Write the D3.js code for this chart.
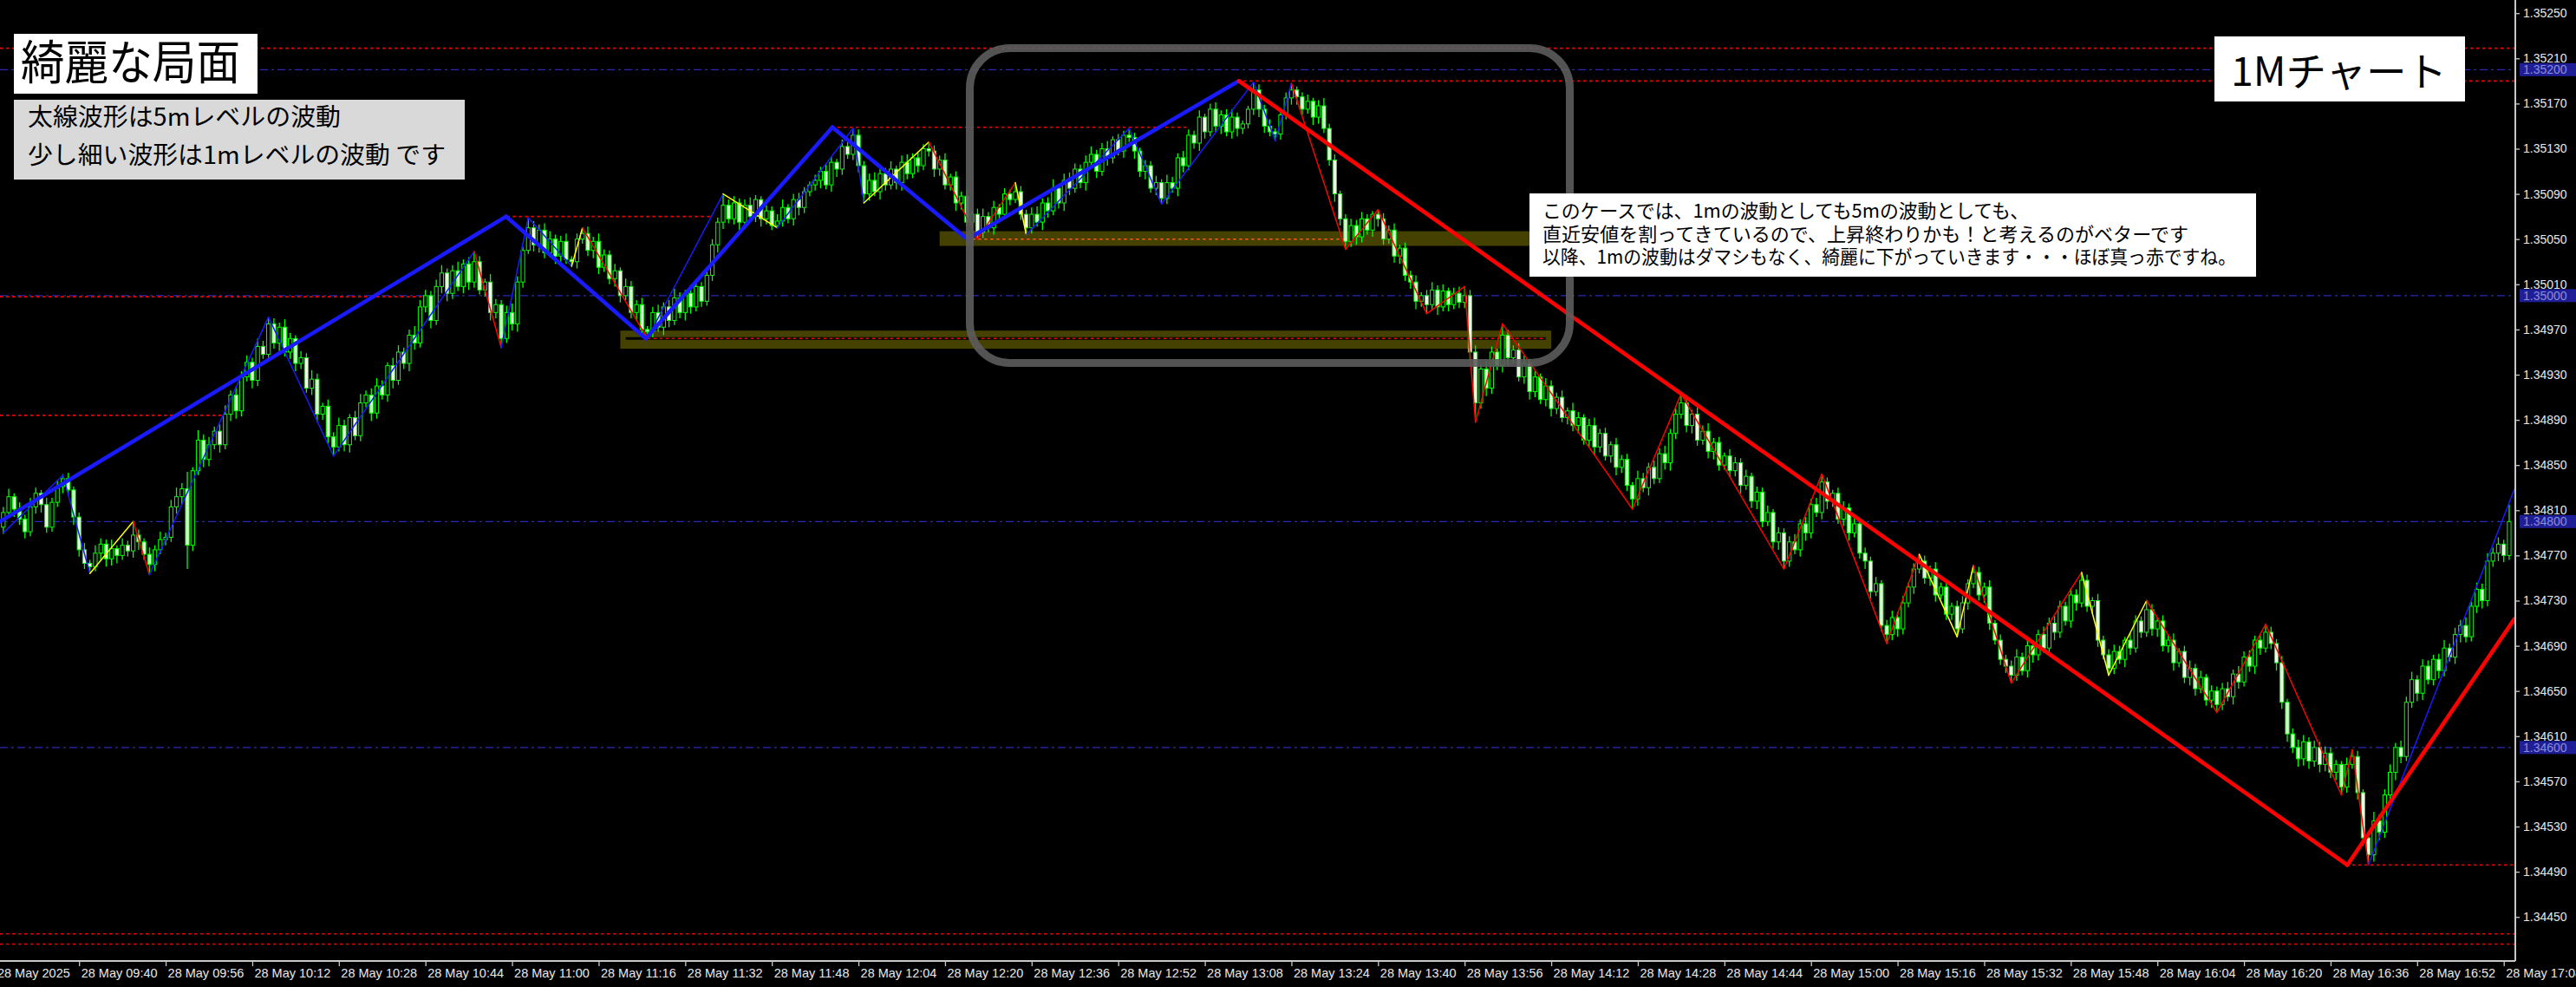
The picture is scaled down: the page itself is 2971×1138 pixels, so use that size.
<!DOCTYPE html>
<html><head><meta charset="utf-8">
<script src="https://cdnjs.cloudflare.com/ajax/libs/d3/7.8.5/d3.min.js"></script>
<style>html,body{margin:0;padding:0;background:#000;overflow:hidden}</style>
</head><body><svg id="c" width="2971" height="1138"></svg>
<script>
// ---------------- DATA ----------------
// 1-minute candles, 28 May 2025, starting 09:26. price = BASE + pts/100000
const BASE = 1.34;
const startTime = "09:26";
const firstOpenPts = 795;
const closePts = [
 808,822,811,802,791,813,825,815,795,817,
 831,838,828,804,775,763,760,772,780,767,
 776,770,779,774,788,782,771,762,775,784,
 786,813,822,829,779,845,872,855,868,880,
 868,895,912,898,928,941,925,955,948,975,
 958,972,950,962,940,945,918,926,895,902,
 875,866,885,868,892,876,905,912,896,920,
 912,938,925,950,940,965,958,990,1000,978,
 1008,1020,1002,1022,1008,1028,1012,1030,1005,1012,
 985,992,962,985,975,1012,1040,1060,1045,1058,
 1038,1050,1035,1048,1032,1030,1050,1055,1040,1048,
 1025,1036,1015,1022,1000,1008,985,992,970,968,
 985,972,990,978,998,985,1002,990,1008,995,
 1018,1045,1065,1080,1068,1082,1065,1080,1070,1085,
 1068,1075,1062,1066,1078,1068,1085,1078,1092,1098,
 1102,1110,1098,1118,1112,1132,1125,1142,1115,1090,
 1102,1092,1108,1098,1112,1100,1118,1108,1122,1115,
 1130,1128,1112,1120,1098,1105,1082,1088,1065,1072,
 1056,1070,1060,1078,1072,1090,1085,1092,1072,1060,
 1072,1065,1082,1075,1095,1082,1102,1095,1112,1100,
 1118,1125,1110,1130,1122,1138,1128,1142,1140,1128,
 1110,1115,1095,1100,1086,1100,1095,1122,1115,1142,
 1135,1158,1145,1165,1150,1160,1145,1158,1148,1152,
 1165,1182,1165,1150,1145,1143,1160,1175,1182,1176,
 1165,1172,1158,1168,1148,1120,1090,1068,1048,1062,
 1052,1068,1058,1072,1068,1050,1058,1035,1042,1018,
 1012,995,1000,992,1005,990,1004,992,1002,994,
 1000,950,905,935,918,950,938,965,945,952,
 928,940,915,928,908,920,900,910,892,898,
 885,892,872,885,866,878,858,868,848,855,
 832,820,838,830,848,838,860,852,878,895,
 905,885,895,872,880,862,870,850,858,845,
 852,832,840,818,826,800,808,782,790,765,
 782,775,798,790,815,808,835,818,825,802,
 812,790,798,772,765,738,745,708,700,715,
 705,728,742,758,765,750,758,735,742,718,
 725,705,728,745,755,735,742,710,695,678,
 672,664,680,668,690,682,700,688,710,702,
 725,712,735,728,748,725,730,695,682,670,
 685,678,695,688,712,702,722,705,712,690,
 695,675,685,662,670,652,662,642,650,638,
 652,645,665,658,680,672,695,688,702,692,
 675,640,612,600,590,605,588,600,585,595,
 578,585,565,585,592,560,520,505,535,525,
 558,578,600,592,640,660,648,672,660,678,
 668,688,680,700,708,698,725,740,730,765,
 772,780,770,800
];
const upWickPts = [
 5,7,3,6,4,8,5,3,6,4, 6,4,5,3,4,6,3,7,5,4, 8,3,6,4,12,5,3,6,4,7, 4,6,8,5,15,3,9,5,7,4,
 6,8,4,7,5,6,4,7,5,6, 5,4,7,5,3,6,4,8,5,3, 6,4,7,5,3,6,8,4,6,7, 5,3,7,6,4,5,8,6,5,4,
 6,7,4,5,8,4,6,9,5,3, 7,5,4,6,8,5,3,9,6,5, 6,7,4,5,7,3,5,5,6,4, 7,5,4,6,3,7,5,4,6,3,
 5,7,4,6,8,5,3,7,5,4, 7,5,4,10,5,6,4,5,7,4, 3,5,4,6,7,3,5,6,4,3, 5,4,7,5,3,6,4,6,5,4,
 6,7,4,5,7,3,6,7,4,5, 4,6,5,4,6,3,5,4,6,3, 5,7,4,6,3,5,4,8,5,4, 6,7,4,5,8,3,6,7,5,4,
 6,7,4,5,7,3,5,4,6,4, 3,5,4,6,3,7,5,4,6,5, 4,6,3,5,6,4,5,7,4,3, 3,7,5,4,6,3,4,5,6,3,
 4,6,3,5,7,4,5,3,4,6, 5,6,4,3,4,5,4,6,3,5, 4,6,3,5,7,4,6,3,5,6, 8,5,6,4,7,5,3,10,5,4,
 6,7,4,5,3,7,5,4,6,3, 7,5,3,6,7,4,5,3,6,4, 5,3,7,5,4,6,5,7,4,5, 8,5,4,6,5,7,4,5,3,6,
 5,4,6,3,5,4,6,3,5,4, 5,7,4,6,5,6,7,4,3,5, 6,4,5,3,5,4,6,3,5,6, 5,6,4,5,6,5,3,6,4,5,
 3,5,6,4,6,5,4,6,3,5, 4,5,7,4,6,5,4,7,5,6, 5,4,6,5,7,5,3,6,4,5, 6,5,3,6,5,4,8,5,3,5,
 4,6,3,5,7,4,6,3,5,4, 5,6,4,7,5,6,4,5,7,5, 4,6,3,5,7,6,4,6,5,6, 5,4,3,6,6,5,3,5,8,6,
 5,7,4,6,5,7,4,6,5,4, 5,7,4,6,5,7,4,6,5,7, 5,6,4,15
];
const downWickPts = [
 6,4,7,5,6,4,6,7,5,4, 4,6,5,7,6,5,6,4,6,7, 6,7,4,5,6,7,5,9,6,4, 5,4,6,7,21,5,4,7,6,4,
 7,4,6,7,5,4,7,5,4,6, 5,7,4,6,7,5,4,6,7,5, 6,8,4,6,7,4,5,4,7,5, 4,6,7,4,5,7,6,4,5,7,
 4,6,7,5,4,6,7,5,4,6, 7,5,8,4,6,7,5,3,6,7, 5,4,7,5,4,4,6,4,5,7, 6,4,5,7,6,4,5,7,6,6,
 5,4,7,6,4,5,7,6,4,5, 4,5,7,6,4,5,7,6,4,5, 7,5,4,2,5,4,6,7,5,4, 5,7,4,6,7,5,4,5,6,8,
 6,4,7,5,4,6,7,5,4,6, 4,5,7,6,4,5,7,6,4,5, 6,5,4,6,7,4,5,3,5,6, 5,4,7,6,4,5,7,6,4,5,
 7,4,6,4,7,5,4,6,4,7, 5,7,4,6,5,5,4,7,6,4, 5,7,6,4,5,7,4,6,7,5, 4,5,7,6,4,6,5,4,6,7,
 5,4,7,6,4,5,7,6,7,5, 7,5,4,6,7,5,4,6,7,5, 6,7,5,8,5,7,4,6,4,5, 5,7,17,5,7,5,4,6,7,5,
 4,6,7,5,4,6,7,5,4,6, 5,7,4,6,7,5,4,6,7,5, 5,9,6,4,7,5,4,6,7,5, 4,6,7,5,4,6,7,5,4,6,
 5,7,4,6,7,5,4,6,7,7, 5,4,6,7,5,4,6,7,5,4, 6,7,4,5,7,6,4,5,8,5, 7,5,4,6,4,5,7,6,4,5,
 5,7,4,6,4,5,7,6,4,5, 6,7,5,4,6,7,5,4,6,7, 5,4,6,7,4,5,7,6,4,6, 5,4,7,6,4,5,4,6,7,5,
 6,7,4,5,7,6,4,5,7,7, 5,4,7,6,4,5,7,6,4,5, 7,6,7,5,7,6,7,5,7,6, 5,7,7,5,4,6,7,9,6,7,
 5,4,7,6,4,5,7,6,4,5, 7,5,4,6,7,5,4,6,7,5, 5,7,6,4
];

// axis ticks
const timeTickTimes = ["09:24:30","09:40","09:56","10:12","10:28","10:44","11:00","11:16","11:32","11:48",
 "12:04","12:20","12:36","12:52","13:08","13:24","13:40","13:56","14:12","14:28","14:44",
 "15:00","15:16","15:32","15:48","16:04","16:20","16:36","16:52","17:08"];
const timeTickLabels = ["28 May 2025","28 May 09:40","28 May 09:56","28 May 10:12","28 May 10:28","28 May 10:44",
 "28 May 11:00","28 May 11:16","28 May 11:32","28 May 11:48","28 May 12:04","28 May 12:20","28 May 12:36",
 "28 May 12:52","28 May 13:08","28 May 13:24","28 May 13:40","28 May 13:56","28 May 14:12","28 May 14:28",
 "28 May 14:44","28 May 15:00","28 May 15:16","28 May 15:32","28 May 15:48","28 May 16:04","28 May 16:20",
 "28 May 16:36","28 May 16:52","28 May 17:08"];
const priceTickLabels = ["1.35250","1.35210","1.35170","1.35130","1.35090","1.35050","1.35010","1.34970",
 "1.34930","1.34890","1.34850","1.34810","1.34770","1.34730","1.34690","1.34650","1.34610","1.34570",
 "1.34530","1.34490","1.34450"];
const roundLevels = ["1.35200","1.35000","1.34800","1.34600"];

// swing level lines [from, to, price]  (null = chart edge)
const redLevels = [[null,null,1.35219],["13:14",null,1.35190],["11:59","13:05",1.35149],["10:59","11:37",1.35070],
 [null,"10:44",1.34999],[null,"10:07",1.34894],["11:25","14:11",1.34962],["16:40",null,1.34496],
 [null,null,1.34435],[null,null,1.34426]];
const orangeLevels = [["12:25","13:34",1.35050]];
const blackLevels = [["11:21","14:11",1.34962]];
const bands = [["12:19","14:10",1.35044,1.35057],["11:20","14:12",1.34953,1.34969]];

// zigzags [time, price, colour of the leg ending here]
const zigzag5m = [["09:25:24",1.34800,"b"],["10:58:54",1.35070,"b"],["11:24:42",1.34962,"b"],["11:59:12",1.35149,"b"],
 ["12:24:06",1.35050,"b"],["13:14:18",1.35190,"b"],["16:39:06",1.34496,"r"],["17:10",1.34714,"r"]];
const zigzag1m = [["09:26",1.34790,"b"],["09:37",1.34841,"b"],["09:42",1.34754,"b"],["09:50",1.34800,"y"],["09:53",1.34753,"r"],
 ["10:15",1.34981,"b"],["10:27",1.34858,"b"],["10:53",1.35039,"b"],["10:58",1.34954,"r"],["11:03",1.35069,"b"],
 ["11:11",1.35026,"b"],["11:13",1.35060,"y"],["11:25",1.34962,"r"],["11:39",1.35090,"b"],["11:49",1.35060,"y"],
 ["12:03",1.35148,"b"],["12:05",1.35082,"b"],["12:17",1.35136,"y"],["12:26",1.35050,"r"],["12:33",1.35100,"r"],
 ["12:35",1.35054,"y"],["12:54",1.35148,"b"],["13:00",1.35081,"b"],["13:17",1.35189,"b"],["13:21",1.35137,"b"],
 ["13:24",1.35188,"b"],["13:34",1.35041,"r"],["13:40",1.35076,"r"],["13:49",1.34984,"r"],["13:56",1.35008,"r"],
 ["13:58",1.34888,"r"],["14:03",1.34975,"r"],["14:27",1.34811,"r"],["14:36",1.34913,"r"],["14:55",1.34758,"r"],
 ["15:02",1.34842,"r"],["15:14",1.34692,"r"],["15:20",1.34771,"r"],["15:27",1.34698,"y"],["15:30",1.34761,"y"],
 ["15:37",1.34657,"r"],["15:50",1.34755,"r"],["15:55",1.34664,"y"],["16:02",1.34730,"y"],["16:15",1.34631,"r"],
 ["16:24",1.34709,"r"],["16:38",1.34558,"r"],["16:40",1.34598,"r"],["16:43",1.34496,"r"],["17:10",1.34829,"b"]];

const titleText = "綺麗な局面";
const noteLines = ["太線波形は5mレベルの波動","少し細い波形は1mレベルの波動 です"];
const chartLabel = "1Mチャート";
const commentLines = ["このケースでは、1mの波動としても5mの波動としても、",
 "直近安値を割ってきているので、上昇終わりかも！と考えるのがベターです",
 "以降、1mの波動はダマシもなく、綺麗に下がっていきます・・・ほぼ真っ赤ですね。"];

// ---------------- DRAW ----------------
const W = 2971, H = 1138, plotR = 2901, plotB = 1108;
const svg = d3.select("#c");
svg.append("rect").attr("width", W).attr("height", H).attr("fill", "#000");
const parse = d3.timeParse("%Y-%m-%d %H:%M:%S");
const T = s => parse("2025-05-28 " + (s.length === 5 ? s + ":00" : s));
const x = d3.scaleTime().domain([T("09:40"), T("17:08")]).range([91.2, 2887.7]);
const y = d3.scaleLinear().domain([1.34450, 1.35250]).range([1057.2, 15.2]);
const P = pts => BASE + pts / 100000;
const colours = {b: "#1a1aff", r: "#ff0000", y: "#ffff00"};

svg.append("clipPath").attr("id", "plot").append("rect").attr("x", 0).attr("y", 0).attr("width", plotR).attr("height", plotB);
const g = svg.append("g").attr("clip-path", "url(#plot)");
const xe = t => t === null ? null : x(T(t));

// bands
g.selectAll(".band").data(bands).join("rect")
  .attr("x", d => xe(d[0])).attr("width", d => xe(d[1]) - xe(d[0]))
  .attr("y", d => y(d[3])).attr("height", d => y(d[2]) - y(d[3]))
  .attr("fill", "#4d4800").attr("opacity", 0.9);

// round-number levels
g.selectAll(".round").data(roundLevels).join("line")
  .attr("x1", 0).attr("x2", plotR).attr("y1", d => y(+d)).attr("y2", d => y(+d))
  .attr("stroke", "#2a2ab4").attr("stroke-width", 1.4).attr("stroke-dasharray", "9,4,3,4");

g.selectAll(".blk").data(blackLevels).join("line")
  .attr("x1", d => xe(d[0])).attr("x2", d => xe(d[1])).attr("y1", d => y(d[2])).attr("y2", d => y(d[2]))
  .attr("stroke", "#000").attr("stroke-width", 3);

function levels(data, colour) {
  g.append("g").selectAll("line").data(data).join("line")
    .attr("x1", d => d[0] === null ? 0 : xe(d[0])).attr("x2", d => d[1] === null ? plotR : xe(d[1]))
    .attr("y1", d => y(d[2])).attr("y2", d => y(d[2]))
    .attr("stroke", colour).attr("stroke-width", 1.6).attr("stroke-dasharray", "3.5,3.5");
}
levels(redLevels, "#f00000");
levels(orangeLevels, "#ff5a10");

// candles
const t0 = T(startTime);
const candles = closePts.map((c, i) => {
  const o = i ? closePts[i - 1] : firstOpenPts;
  return {t: d3.timeMinute.offset(t0, i), o: P(o), c: P(c),
          h: P(Math.max(o, c) + upWickPts[i]), l: P(Math.min(o, c) - downWickPts[i])};
});
const cg = g.append("g");
cg.selectAll(".wick").data(candles).join("line")
  .attr("x1", d => x(d.t)).attr("x2", d => x(d.t)).attr("y1", d => y(d.h)).attr("y2", d => y(d.l))
  .attr("stroke", "#00ff00").attr("stroke-width", 1.3);
const bw = 4.2;
cg.selectAll(".body").data(candles).join("rect")
  .attr("x", d => x(d.t) - bw / 2).attr("width", bw)
  .attr("y", d => y(Math.max(d.o, d.c))).attr("height", d => Math.max(0.8, Math.abs(y(d.o) - y(d.c))))
  .attr("fill", d => d.c >= d.o ? "#000" : "#e8ffe0").attr("stroke", "#00ff00").attr("stroke-width", 1);

// zigzags
function zig(data, width) {
  const segs = data.slice(1).map((d, i) => [data[i], d]);
  g.append("g").selectAll("line").data(segs).join("line")
    .attr("x1", s => x(T(s[0][0]))).attr("y1", s => y(s[0][1]))
    .attr("x2", s => x(T(s[1][0]))).attr("y2", s => y(s[1][1]))
    .attr("stroke", s => colours[s[1][2]]).attr("stroke-width", width).attr("stroke-linecap", "round");
}
zig(zigzag1m, 1.5);
zig(zigzag5m, 4.6);

// rounded highlight frame
svg.append("rect").attr("x", 1118.5).attr("y", 55.5).attr("width", 692).attr("height", 363).attr("rx", 46)
  .attr("fill", "none").attr("stroke", "#5c5c5c").attr("stroke-opacity", 0.9).attr("stroke-width", 9);

// axes
svg.append("line").attr("x1", 0).attr("x2", plotR).attr("y1", plotB).attr("y2", plotB).attr("stroke", "#c8c8c8").attr("stroke-width", 2);
svg.append("line").attr("x1", plotR).attr("x2", plotR).attr("y1", 0).attr("y2", plotB).attr("stroke", "#c8c8c8").attr("stroke-width", 2);
const fontAxis = "Liberation Sans, Arial, sans-serif";
const xa = svg.append("g").attr("transform", `translate(0,${plotB})`)
  .call(d3.axisBottom(x).tickValues(timeTickTimes.map(T)).tickFormat((d, i) => timeTickLabels[i]).tickSize(6));
xa.select(".domain").remove();
xa.selectAll("line").attr("stroke", "#c8c8c8").attr("stroke-width", 1.3);
xa.selectAll("text").attr("text-anchor", "start").attr("x", 2).attr("fill", "#e8e8e8")
  .style("font-family", fontAxis).style("font-size", "14.5px");
const ya = svg.append("g").attr("transform", `translate(${plotR},0)`)
  .call(d3.axisRight(y).tickValues(priceTickLabels.map(Number)).tickFormat(d3.format(".5f")).tickSize(5));
ya.select(".domain").remove();
ya.selectAll("line").attr("stroke", "#c8c8c8").attr("stroke-width", 1.3);
ya.selectAll("text").attr("x", 9).attr("fill", "#e8e8e8").style("font-family", fontAxis).style("font-size", "14px");
const rl = svg.append("g").selectAll("g").data(roundLevels).join("g").attr("transform", d => `translate(${plotR + 5},${y(+d)})`);
rl.append("rect").attr("x", 0).attr("y", -7.5).attr("width", 70).attr("height", 15).attr("fill", "#1e1e96");
rl.append("text").attr("x", 4).attr("dy", "0.35em").text(d => d).attr("fill", "#8c8cd8")
  .style("font-family", fontAxis).style("font-size", "14px");

// text boxes
const jp = "'Noto Sans CJK JP', sans-serif";
function box(x0, y0, w, h, fill) { svg.append("rect").attr("x", x0).attr("y", y0).attr("width", w).attr("height", h).attr("fill", fill); }
function txt(s, x0, base, size, len) {
  svg.append("text").attr("x", x0).attr("y", base).text(s).attr("fill", "#000")
    .style("font-family", jp).style("font-size", size + "px")
    .attr("textLength", len).attr("lengthAdjust", "spacingAndGlyphs");
}
box(16, 39, 281, 69, "#ffffff");
txt(titleText, 24, 92, 54, 253);
box(16, 115, 520, 92, "#d9d9d9");
txt(noteLines[0], 32, 145, 28, 361);
txt(noteLines[1], 32, 189, 28, 482);
box(2554, 42, 289, 75, "#ffffff");
txt(chartLabel, 2573, 99, 46, 249);
box(1764, 223, 838, 96, "#ffffff");
txt(commentLines[0], 1779, 251, 22, 561);
txt(commentLines[1], 1779, 277.5, 22, 745);
txt(commentLines[2], 1779, 304, 22, 800);
</script></body></html>
